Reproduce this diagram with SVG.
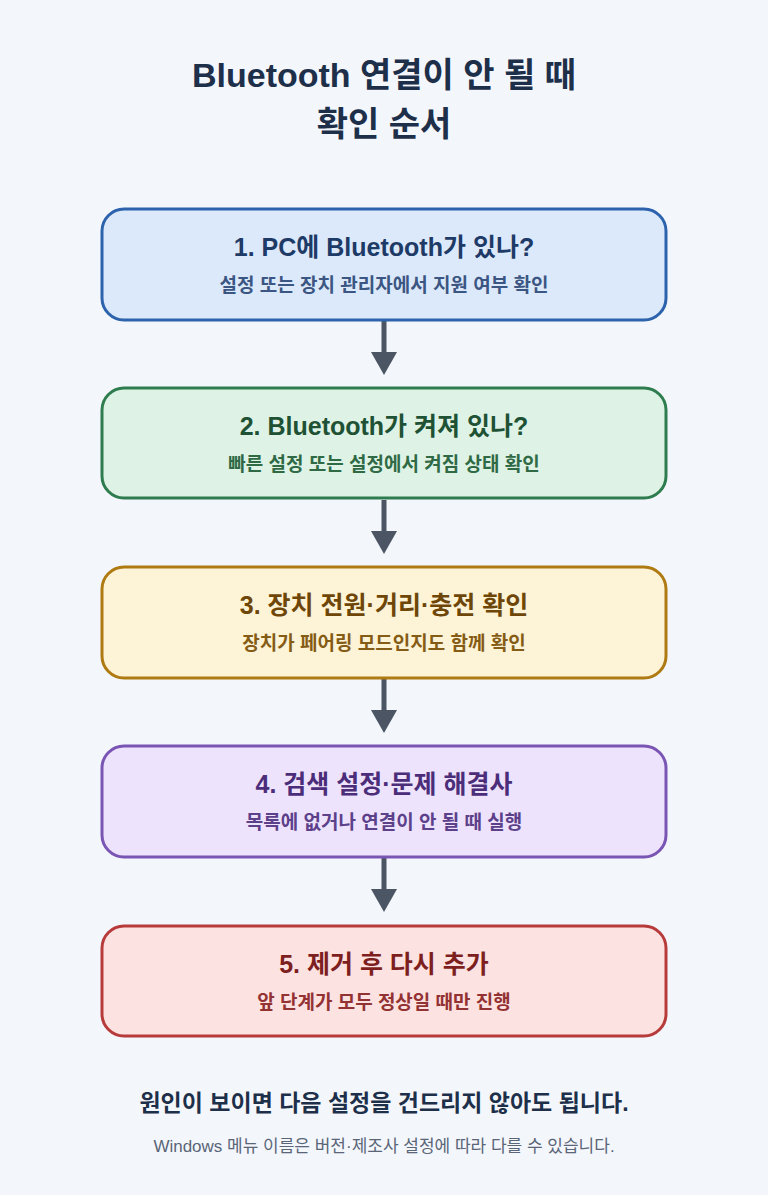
<svg xmlns="http://www.w3.org/2000/svg" width="768" height="1195" viewBox="0 0 768 1195">
<defs>
<style>
text{font-family:"Liberation Sans","Noto Sans CJK KR",sans-serif;text-anchor:middle;font-weight:bold}
.t{font-size:34px;fill:#1e2f4a}
.h{font-size:25px}
.s{font-size:19px}
.box{stroke-width:3}
.c{stroke:#4b5563;stroke-width:5;fill:none}
</style>
</defs>
<rect width="768" height="1195" fill="#f3f7fc"/>
<text class="t" x="384" y="87">Bluetooth 연결이 안 될 때</text>
<text class="t" x="384" y="136">확인 순서</text>
<g id="connectors">
<line class="c" x1="384" y1="321" x2="384" y2="352"/><path d="M371,352 L397,352 L384,375 z" fill="#4b5563"/>
<line class="c" x1="384" y1="500" x2="384" y2="531"/><path d="M371,531 L397,531 L384,554 z" fill="#4b5563"/>
<line class="c" x1="384" y1="679" x2="384" y2="710"/><path d="M371,710 L397,710 L384,733 z" fill="#4b5563"/>
<line class="c" x1="384" y1="858" x2="384" y2="889"/><path d="M371,889 L397,889 L384,912 z" fill="#4b5563"/>
</g>
<g id="n1"><rect class="box" x="102" y="209" width="564" height="111" rx="22" fill="#dbe9fb" stroke="#2d63ad"/>
<text class="h" x="384" y="256" fill="#1e3a66">1. PC에 Bluetooth가 있나?</text>
<text class="s" x="384" y="292" fill="#3b5682">설정 또는 장치 관리자에서 지원 여부 확인</text></g>
<g id="n2"><rect class="box" x="102" y="388" width="564" height="110" rx="22" fill="#def3e6" stroke="#2f7d4f"/>
<text class="h" x="384" y="435" fill="#1f5234">2. Bluetooth가 켜져 있나?</text>
<text class="s" x="384" y="471" fill="#2f6a45">빠른 설정 또는 설정에서 켜짐 상태 확인</text></g>
<g id="n3"><rect class="box" x="102" y="567" width="564" height="111" rx="22" fill="#fdf3d6" stroke="#b07a12"/>
<text class="h" x="384" y="614" fill="#6e4608">3. 장치 전원·거리·충전 확인</text>
<text class="s" x="384" y="650" fill="#855c15">장치가 페어링 모드인지도 함께 확인</text></g>
<g id="n4"><rect class="box" x="102" y="746" width="564" height="111" rx="22" fill="#ede3fc" stroke="#7a55b3"/>
<text class="h" x="384" y="793" fill="#4b2d7a">4. 검색 설정·문제 해결사</text>
<text class="s" x="384" y="829" fill="#5c408a">목록에 없거나 연결이 안 될 때 실행</text></g>
<g id="n5"><rect class="box" x="102" y="926" width="564" height="110" rx="22" fill="#fde2e2" stroke="#b83b3b"/>
<text class="h" x="384" y="973" fill="#7d1f1f">5. 제거 후 다시 추가</text>
<text class="s" x="384" y="1009" fill="#933232">앞 단계가 모두 정상일 때만 진행</text></g>
<text x="384" y="1111" font-size="23" fill="#1e2f4a">원인이 보이면 다음 설정을 건드리지 않아도 됩니다.</text>
<text x="384" y="1152" font-size="17" fill="#5a6577" style="font-weight:normal">Windows 메뉴 이름은 버전·제조사 설정에 따라 다를 수 있습니다.</text>
</svg>
